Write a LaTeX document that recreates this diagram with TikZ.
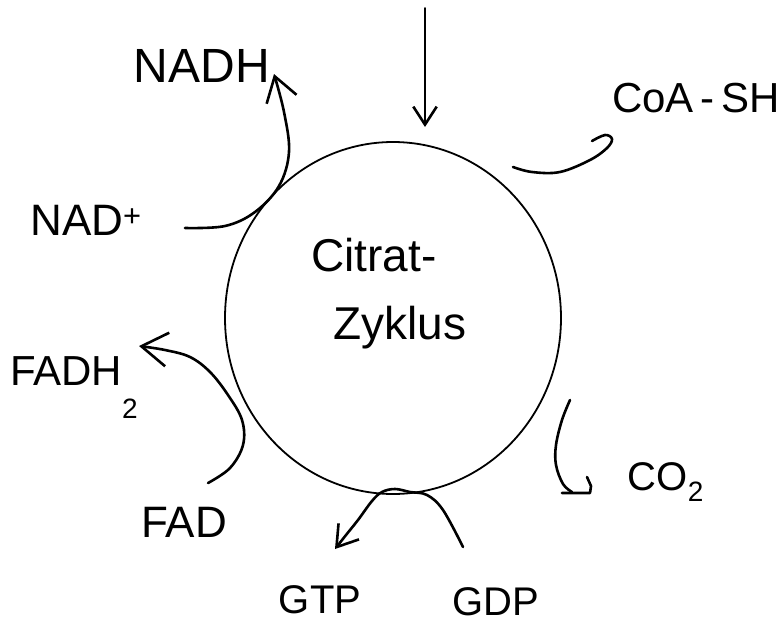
\documentclass[tikz,border=0pt]{standalone}
\usepackage{fontspec}
\setmainfont{Liberation Sans}
\usetikzlibrary{arrows.meta,shapes.geometric}
\tikzset{
  hand/.style={line width=2.6pt, line cap=round, line join=round},
  barb/.style={-{Straight Barb[length=#1, width=1.3*#1, line width=2.6pt]}},
  lbl/.style={inner sep=0pt, anchor=center},
}
\begin{document}
\begin{tikzpicture}[x=1pt,y=-1pt]
\useasboundingbox (0,0) rectangle (784,635);
% cycle
\node[ellipse, draw, line width=1.8pt, minimum width=336pt, minimum height=352pt, inner sep=0pt] (cyc) at (393,318) {};
\node[lbl, font=\fontsize{46}{50}\selectfont] (cit) at (374,255) {Citrat-};
\node[lbl, font=\fontsize{46}{50}\selectfont] (zyk) at (400,328) {Zyklus};
% labels
\node[lbl, font=\fontsize{48}{52}\selectfont] (nadh) at (202,66) {NADH};
\node[lbl, font=\fontsize{44}{48}\selectfont] (nadp) at (86,220) {NAD\textsuperscript{+}};
\node[lbl, font=\fontsize{42}{46}\selectfont, anchor=base west] (coa) at (612,112) {CoA\,-\,SH};
\node[lbl, font=\fontsize{42}{46}\selectfont, anchor=base west] (fadh) at (10,385) {FADH\raisebox{-0.8em}{\fontsize{28}{30}\selectfont 2}};
\node[lbl, font=\fontsize{44}{48}\selectfont] (fad) at (184,522) {FAD};
\node[lbl, font=\fontsize{40}{44}\selectfont] (co2) at (666,482) {CO\textsubscript{2}};
\node[lbl, font=\fontsize{40}{44}\selectfont] (gtp) at (320,600) {GTP};
\node[lbl, font=\fontsize{40}{44}\selectfont] (gdp) at (496,602) {GDP};
% connector end points
\coordinate (topin) at (425,8);
\coordinate (topend) at (425,127);
\coordinate (nadps) at (185,228);
\coordinate (nadhe) at (274,74);
\coordinate (coas) at (513,167);
\coordinate (coae) at (592,141);
\coordinate (co2s) at (570,400);
\coordinate (fads) at (208,483);
\coordinate (fadhe) at (139,346);
\coordinate (gdps) at (463,547);
\coordinate (gtpe) at (335,549);
% arrows
\draw[hand, barb=18pt, line width=1.8pt] (topin) -- (topend);
\draw[hand, barb=24pt] plot[smooth, tension=0.6] coordinates {(nadps) (225,226) (255,212) (279,186) (289,152) (284,112) (nadhe)};
\draw[hand] plot[smooth, tension=0.6] coordinates {(coas) (532,172) (560,172) (590,160) (607,148) (612,139) (605,135) (coae)};
\draw[hand] plot[smooth, tension=0.6] coordinates {(co2s) (562,420) (556,445) (556,465) (563,484) (572,492)};
\draw[hand] (562,493) -- (590,493) -- (591,486) -- (587,477);
\draw[hand, barb=26pt] plot[smooth, tension=0.6] coordinates {(fads) (230,468) (243,445) (242,420) (228,395) (210,372) (190,357) (165,350) (fadhe)};
\draw[hand, barb=20pt] plot[smooth, tension=0.6] coordinates {(gdps) (443,510) (427,495) (410,492) (395,489) (382,492) (372,501) (358,520) (346,535) (gtpe)};
\end{tikzpicture}
\end{document}
